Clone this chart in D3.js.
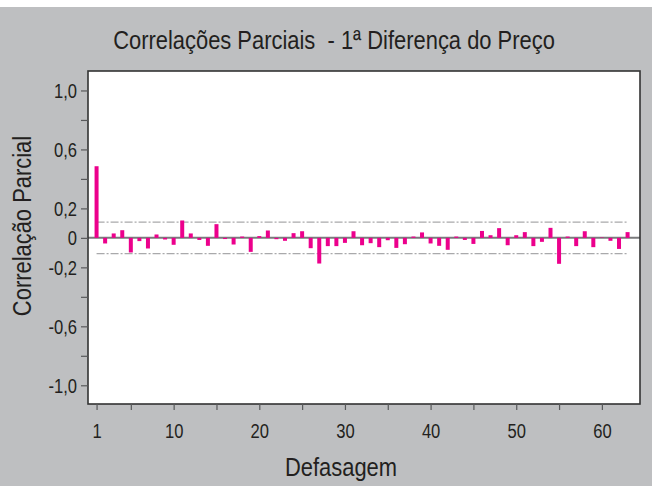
<!DOCTYPE html>
<html>
<head>
<meta charset="utf-8">
<script src="https://cdn.jsdelivr.net/npm/d3@7"></script>
<style>
  html, body { margin: 0; padding: 0; background: #ffffff; }
  svg { display: block; }
  text { font-family: "Liberation Sans Narrow", "Arial Narrow", "Liberation Sans", Arial, sans-serif; fill: #231f20; white-space: pre; }
</style>
</head>
<body>
<svg id="chart" width="652" height="486"></svg>
<script>
// ---- data ----
const title = "Correlações Parciais  - 1ª Diferença do Preço";
const xTitle = "Defasagem";
const yTitle = "Correlação Parcial";
const lags = d3.range(1, 64);
const pacf = [
  0.486, -0.038, 0.030, 0.052, -0.099, -0.022, -0.072, 0.023, -0.011, -0.047,
  0.118, 0.030, -0.014, -0.054, 0.093, -0.008, -0.045, 0.009, -0.095, 0.012,
  0.050, -0.009, -0.020, 0.032, 0.045, -0.070, -0.174, -0.056, -0.056, -0.034,
  0.045, -0.050, -0.036, -0.063, -0.016, -0.068, -0.043, 0.009, 0.037, -0.038,
  -0.054, -0.081, 0.009, -0.014, -0.041, 0.047, 0.018, 0.066, -0.050, 0.018,
  0.039, -0.056, -0.027, 0.068, -0.176, 0.009, -0.056, 0.045, -0.063, 0.003,
  -0.020, -0.075, 0.039
];
const ciBound = 0.107;
const yTicks = [1.0, 0.8, 0.6, 0.4, 0.2, 0, -0.2, -0.4, -0.6, -0.8, -1.0];
const yLabelled = [1.0, 0.6, 0.2, 0, -0.2, -0.6, -1.0];
const xTicks = [1, 5, 10, 15, 20, 25, 30, 35, 40, 45, 50, 55, 60];
const xLabelled = [1, 10, 20, 30, 40, 50, 60];

// ---- layout ----
const svg = d3.select("#chart");
const W = 652, H = 486;
const plot = { left: 88, top: 71, right: 640, bottom: 404 };
const narrow = 0.85;      // horizontal squeeze to mimic a narrow sans face
const titleNarrow = 0.86;

svg.append("rect").attr("x", 0).attr("y", 7).attr("width", W).attr("height", H - 7)
  .attr("fill", "#bebfc1");

const x = d3.scaleLinear().domain([0, 64.45]).range([plot.left, plot.right]);
const y = d3.scaleLinear().domain([-1.127, 1.132]).range([plot.bottom, plot.top]);

svg.append("rect")
  .attr("x", plot.left).attr("y", plot.top)
  .attr("width", plot.right - plot.left).attr("height", plot.bottom - plot.top)
  .attr("fill", "#ffffff");

// confidence bounds
[ciBound, -ciBound].forEach(v => {
  svg.append("line")
    .attr("x1", x(lags[0])).attr("x2", x(lags[lags.length - 1]))
    .attr("y1", y(v)).attr("y2", y(v))
    .attr("stroke", "#a9a9ab").attr("stroke-width", 1.4)
    .attr("stroke-dasharray", "8,2,2,2");
});

// zero line
svg.append("line")
  .attr("x1", plot.left).attr("x2", plot.right)
  .attr("y1", y(0)).attr("y2", y(0))
  .attr("stroke", "#7a7a7c").attr("stroke-width", 2);

// bars
const bw = 4;
svg.append("g").selectAll("rect").data(lags).join("rect")
  .attr("x", (d) => x(d) - bw / 2)
  .attr("width", bw)
  .attr("y", (d, i) => y(Math.max(0, pacf[i])))
  .attr("height", (d, i) => Math.abs(y(pacf[i]) - y(0)))
  .attr("fill", "#ec008c");

// border
svg.append("rect")
  .attr("x", plot.left).attr("y", plot.top)
  .attr("width", plot.right - plot.left).attr("height", plot.bottom - plot.top)
  .attr("fill", "none").attr("stroke", "#333333").attr("stroke-width", 1.6);

// axes
const fmtY = v => {
  if (!yLabelled.some(t => Math.abs(t - v) < 1e-9)) return "";
  if (v === 0) return "0";
  return d3.format(".1f")(v).replace("−", "-").replace(".", ",");
};
const yAxis = d3.axisLeft(y).tickValues(yTicks).tickFormat(fmtY).tickSize(7).tickPadding(4);
const gy = svg.append("g").attr("transform", `translate(${plot.left},0)`).call(yAxis);
gy.select(".domain").remove();
gy.selectAll(".tick line").attr("stroke", "#58595b").attr("stroke-width", 1.2);
gy.selectAll(".tick text")
  .attr("font-size", 19.5)
  .attr("fill", "#231f20")
  .attr("x", -11 / narrow)
  .attr("dy", "0.36em")
  .attr("transform", `scale(${narrow},1)`);

const xAxis = d3.axisBottom(x).tickValues(xTicks)
  .tickFormat(v => xLabelled.includes(v) ? String(v) : "")
  .tickSize(6).tickPadding(14);
const gx = svg.append("g").attr("transform", `translate(0,${plot.bottom})`).call(xAxis);
gx.select(".domain").remove();
gx.selectAll(".tick line").attr("stroke", "#58595b").attr("stroke-width", 1.2);
gx.selectAll(".tick text")
  .attr("font-size", 19.5)
  .attr("fill", "#231f20")
  .attr("y", 34.5).attr("dy", 0)
  .attr("transform", `scale(${narrow},1)`);

// titles
svg.append("text")
  .attr("transform", `translate(334,49) scale(${titleNarrow},1)`)
  .attr("text-anchor", "middle")
  .attr("font-size", 25.5).text(title);
svg.append("text")
  .attr("transform", `translate(341,476) scale(${titleNarrow},1)`)
  .attr("text-anchor", "middle")
  .attr("font-size", 25.5).text(xTitle);
svg.append("text")
  .attr("transform", `translate(31,226) rotate(-90) scale(${titleNarrow},1)`)
  .attr("text-anchor", "middle").attr("font-size", 25.5).text(yTitle);
</script>
</body>
</html>
